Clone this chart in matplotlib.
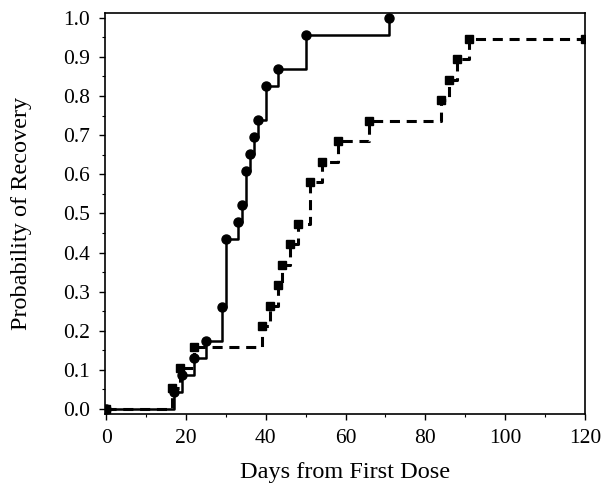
import matplotlib
matplotlib.use("Agg")
import matplotlib.pyplot as plt
from matplotlib.ticker import MultipleLocator

plt.rcParams['font.family'] = 'serif'
plt.rcParams['font.serif'] = ['Liberation Serif', 'Times New Roman', 'DejaVu Serif']

# solid curve (circles)
days_a = [0, 17, 19, 22, 25, 29, 30, 33, 34, 35, 36, 37, 38, 40, 43, 50, 71]
prob_a = [0.0, 0.043, 0.087, 0.130, 0.174, 0.261, 0.435, 0.478, 0.522,
          0.609, 0.652, 0.696, 0.739, 0.826, 0.870, 0.957, 1.0]

# dashed curve (squares)
days_b = [0, 16.5, 18.5, 22, 39, 41, 43, 44, 46, 48, 51, 54, 58, 66,
          84, 86, 88, 91, 120]
prob_b = [0.0, 0.053, 0.105, 0.158, 0.211, 0.263, 0.316, 0.368, 0.421,
          0.474, 0.579, 0.632, 0.684, 0.737, 0.789, 0.842, 0.895, 0.947, 0.947]

xticks = [0, 20, 40, 60, 80, 100, 120]
yticks = [0.0, 0.1, 0.2, 0.3, 0.4, 0.5, 0.6, 0.7, 0.8, 0.9, 1.0]

fig = plt.figure(figsize=(6.03, 4.86), dpi=100)
ax = fig.add_axes([0.174, 0.148, 0.796, 0.825])

ax.step(days_b, prob_b, where='post', color='black', lw=2.2,
        linestyle=(0, (3.3, 2.2)), marker='s', ms=6, mfc='black', mec='black')
ax.step(days_a, prob_a, where='post', color='black', lw=1.8,
        marker='o', ms=6.5, mfc='black', mec='black')

ax.set_xlim(-0.3, 120)
ax.set_ylim(-0.013, 1.012)
ax.set_xticks(xticks)
ax.set_yticks(yticks)
ax.set_yticklabels(['%.1f' % v for v in yticks])
ax.xaxis.set_minor_locator(MultipleLocator(10))
ax.yaxis.set_minor_locator(MultipleLocator(0.05))
ax.tick_params(which='major', direction='out', length=4, width=1, pad=7, labelsize=15.5)
ax.tick_params(which='minor', direction='out', length=2, width=0.8)

for s in ax.spines.values():
    s.set_linewidth(1.2)

ax.set_xlabel('Days from First Dose', fontsize=17.5, labelpad=10)
ax.set_ylabel('Probability of Recovery', fontsize=17.5, labelpad=22)

fig.savefig('out.png', dpi=100)
